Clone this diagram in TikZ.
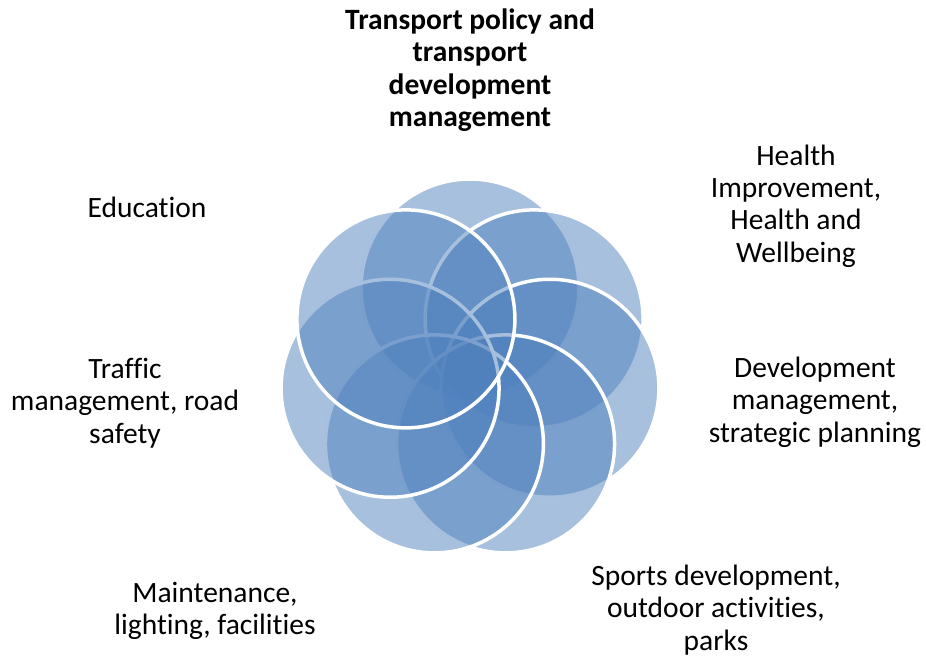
\documentclass[tikz,border=0pt]{standalone}
\usepackage{fontspec}
\setmainfont{Carlito}[Ligatures={NoCommon}]
\usepackage{xcolor}
\definecolor{ringblue}{RGB}{79,129,189}
\usepackage{tikz}
\tikzset{
ringnode/.style={circle, minimum size=218pt, inner sep=0pt, fill=ringblue, fill opacity=0.5, draw=white, draw opacity=1, line width=3.5pt},
lbl/.style={align=center, font=\fontsize{29.5}{32.4}\selectfont, text=black}
}
\newcommand{\ring}[2]{
\node[ringnode] (#1) at ([shift={(470,287)}]#2:82) {};
}

\begin{document}
\begin{tikzpicture}[x=1pt,y=1pt]
\useasboundingbox (0,0) rectangle (926,657);

\ring{transport}{90}
\ring{health}{38.57}
\ring{development}{-12.86}
\ring{sports}{-64.29}
\ring{maintenance}{-115.71}
\ring{traffic}{-167.14}
\ring{education}{141.43}

%labels
\node[lbl, font=\fontsize{29.5}{32.4}\selectfont\bfseries] (transport label) at (470,587) {Transport policy and\\transport\\development\\management};
\node[lbl] (health label) at (796,451) {Health\\Improvement,\\Health and\\Wellbeing};
\node[lbl] (development label) at (815,255) {Development\\management,\\strategic planning};
\node[lbl] (sports label) at (716,47) {Sports development,\\outdoor activities,\\parks};
\node[lbl] (maintenance label) at (215,46) {Maintenance,\\lighting, facilities};
\node[lbl] (traffic label) at (125,254) {Traffic\\management, road\\safety};
\node[lbl] (education label) at (147,450) {Education};

\end{tikzpicture}
\end{document}
